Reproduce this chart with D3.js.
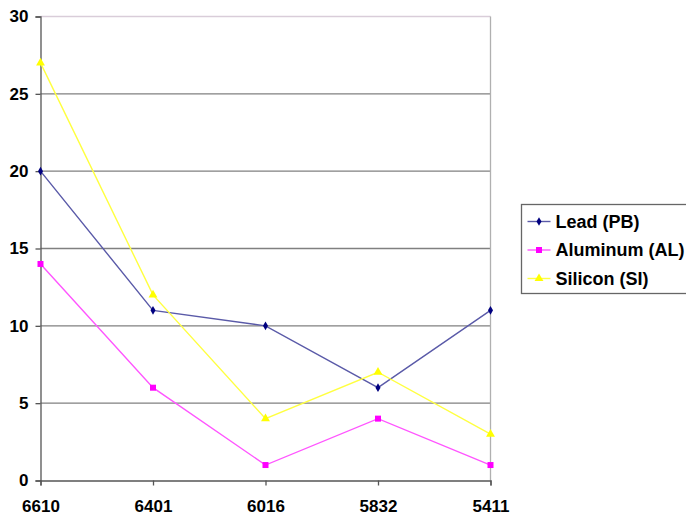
<!DOCTYPE html>
<meta charset="utf-8">
<script src="https://d3js.org/d3.v7.min.js"></script>
<style>
  body { margin: 0; background: #fff; }
  text { font-family: "Liberation Sans", Arial, sans-serif; font-weight: bold; }
</style>
<svg id="chart" width="686" height="515"></svg>
<script>

// data
var categories = ["6610", "6401", "6016", "5832", "5411"];
var lead = [20, 11, 10, 6, 11];
var aluminum = [14, 6, 1, 4, 1];
var silicon = [27, 12, 4, 7, 3];
var yTicks = [0, 5, 10, 15, 20, 25, 30];

var series = [
  {name: "Lead (PB)", values: lead, color: "#000080", line: "#5a5aa8", shape: d3.symbolDiamond, size: 22},
  {name: "Aluminum (AL)", values: aluminum, color: "#ff00ff", line: "#ff55ff", shape: d3.symbolSquare, size: 36},
  {name: "Silicon (SI)", values: silicon, color: "#ffff00", line: "#ffff40", shape: d3.symbolTriangle, size: 34}
];

var svg = d3.select("#chart");
// plot box (window.top is reserved, so use other names)
var plotL = 40.5, plotR = 490.5, plotT = 16.5, plotB = 480.5;

var x = d3.scalePoint().domain(categories).range([plotL, plotR]).padding(0);
var y = d3.scaleLinear().domain([0, 30]).range([plotB, plotT]);

// gridlines
svg.append("g")
  .selectAll("line")
  .data(yTicks.filter(function(d) { return d > 0; }))
  .enter()
  .append("line")
    .attr("x1", plotL).attr("x2", plotR)
    .attr("y1", function(d) { return y(d); })
    .attr("y2", function(d) { return y(d); })
    .attr("stroke", function(d) { return d === 30 ? "#d9cdd9" : "#808080"; })
    .attr("stroke-width", 1.3);

// right border
svg.append("line")
  .attr("x1", plotR).attr("x2", plotR)
  .attr("y1", plotT).attr("y2", plotB)
  .attr("stroke", "#b0b0b0").attr("stroke-width", 1.3);

// y axis
var yAxis = svg.append("g")
  .attr("transform", "translate(" + plotL + ",0)")
  .call(d3.axisLeft(y).tickValues(yTicks).tickSize(5).tickPadding(7));
yAxis.selectAll("text").style("font-size", "17px").attr("fill", "#000");

// x axis
var xAxis = svg.append("g")
  .attr("transform", "translate(0," + plotB + ")")
  .call(d3.axisBottom(x).tickSize(5).tickPadding(14));
xAxis.selectAll("text").style("font-size", "17px").attr("fill", "#000");

[yAxis, xAxis].forEach(function(ax) {
  ax.select(".domain").attr("stroke", "#555").attr("stroke-width", 1.3);
  ax.selectAll(".tick line").attr("stroke", "#555").attr("stroke-width", 1.3);
});

// lines + markers
var line = d3.line()
  .x(function(d, i) { return x(categories[i]); })
  .y(function(d) { return y(d); });

series.forEach(function(s) {
  svg.append("path")
    .datum(s.values)
    .attr("d", line)
    .attr("fill", "none")
    .attr("stroke", s.line)
    .attr("stroke-width", 1.4);

  svg.selectAll(null)
    .data(s.values)
    .enter()
    .append("path")
      .attr("d", d3.symbol().type(s.shape).size(s.size))
      .attr("transform", function(d, i) { return "translate(" + x(categories[i]) + "," + y(d) + ")"; })
      .attr("fill", s.color);
});

// legend
var legend = svg.append("g").attr("transform", "translate(521.5,204.5)");
legend.append("rect")
  .attr("width", 170).attr("height", 89)
  .attr("fill", "#fff").attr("stroke", "#666").attr("stroke-width", 1.3);

var items = legend.selectAll("g.item")
  .data(series)
  .enter()
  .append("g")
    .attr("transform", function(d, i) { return "translate(0," + (17 + i * 28.5) + ")"; });

items.append("line")
  .attr("x1", 6).attr("x2", 29)
  .attr("stroke", function(d) { return d.line; })
  .attr("stroke-width", 1.4);
items.append("path")
  .attr("d", function(d) { return d3.symbol().type(d.shape).size(d.size)(); })
  .attr("transform", "translate(17.5,0)")
  .attr("fill", function(d) { return d.color; });
items.append("text")
  .attr("x", 34).attr("dy", "0.36em")
  .style("font-size", "18px")
  .text(function(d) { return d.name; });

</script>
